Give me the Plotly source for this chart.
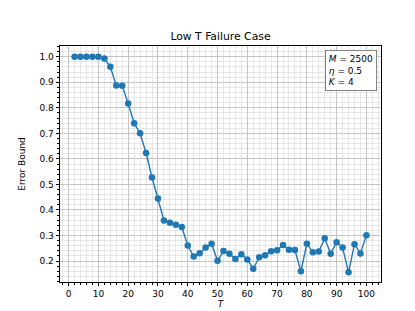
import plotly.graph_objects as go

T = list(range(2, 101, 2))
error_bound = [1.0, 1.0, 1.0, 1.0, 1.0, 0.993, 0.961, 0.887, 0.886, 0.817,
               0.740, 0.700, 0.623, 0.527, 0.445, 0.359, 0.350, 0.342, 0.333, 0.261,
               0.218, 0.231, 0.253, 0.268, 0.201, 0.239, 0.229, 0.208, 0.227, 0.206,
               0.170, 0.215, 0.223, 0.238, 0.242, 0.263, 0.244, 0.243, 0.160, 0.268,
               0.234, 0.237, 0.289, 0.229, 0.274, 0.253, 0.156, 0.266, 0.230, 0.301]
x_ticks = list(range(0, 101, 10))
y_ticks = [0.2, 0.3, 0.4, 0.5, 0.6, 0.7, 0.8, 0.9, 1.0]
y_tick_labels = ["0.2", "0.3", "0.4", "0.5", "0.6", "0.7", "0.8", "0.9", "1.0"]

fig = go.Figure()
fig.add_trace(go.Scatter(
    x=T, y=error_bound, mode="lines+markers",
    line=dict(color="#1f77b4", width=1.4),
    marker=dict(color="#1f77b4", size=6.5),
    showlegend=False,
))

font = "DejaVu Sans, sans-serif"
axis_common = dict(
    showline=True, linecolor="black", linewidth=0.8, mirror=True,
    ticks="outside", ticklen=3.5, tickwidth=0.8, tickcolor="black",
    showgrid=True, gridcolor="#c4c4c4", gridwidth=0.8,
    zeroline=False,
    tickfont=dict(family=font, size=9, color="black"),
)

fig.update_layout(
    width=415, height=311,
    margin=dict(l=52, r=42, t=38, b=34),
    paper_bgcolor="white", plot_bgcolor="white",
    title=dict(text="Low T Failure Case", x=0.512, xanchor="center",
               y=1 - 28 / 311, yanchor="middle",
               font=dict(family=font, size=10.8, color="black")),
    xaxis=dict(
        range=[-2.9, 104.9], tickvals=x_ticks,
        title=dict(text="<i>T</i>", font=dict(family=font, size=9, color="black"), standoff=1),
        minor=dict(dtick=2, tick0=0, ticks="outside", ticklen=2, tickcolor="black",
                   showgrid=True, gridcolor="#e6e6e6", gridwidth=0.6),
        **axis_common,
    ),
    yaxis=dict(
        range=[0.118, 1.042], tickvals=y_ticks, ticktext=y_tick_labels,
        title=dict(text="Error Bound", font=dict(family=font, size=9, color="black"), standoff=12),
        minor=dict(dtick=0.02, tick0=0, ticks="outside", ticklen=2, tickcolor="black",
                   showgrid=True, gridcolor="#e6e6e6", gridwidth=0.6),
        **axis_common,
    ),
    annotations=[dict(
        xref="paper", yref="paper", x=0.988, y=0.984, xanchor="right", yanchor="top",
        text="<i>M</i> = 2500<br><i>η</i> = 0.5<br><i>K</i> = 4",
        align="left", showarrow=False,
        font=dict(family=font, size=9, color="black"),
        bgcolor="white", bordercolor="#666666", borderwidth=0.8, borderpad=3,
    )],
)

fig.write_html("out.html")
